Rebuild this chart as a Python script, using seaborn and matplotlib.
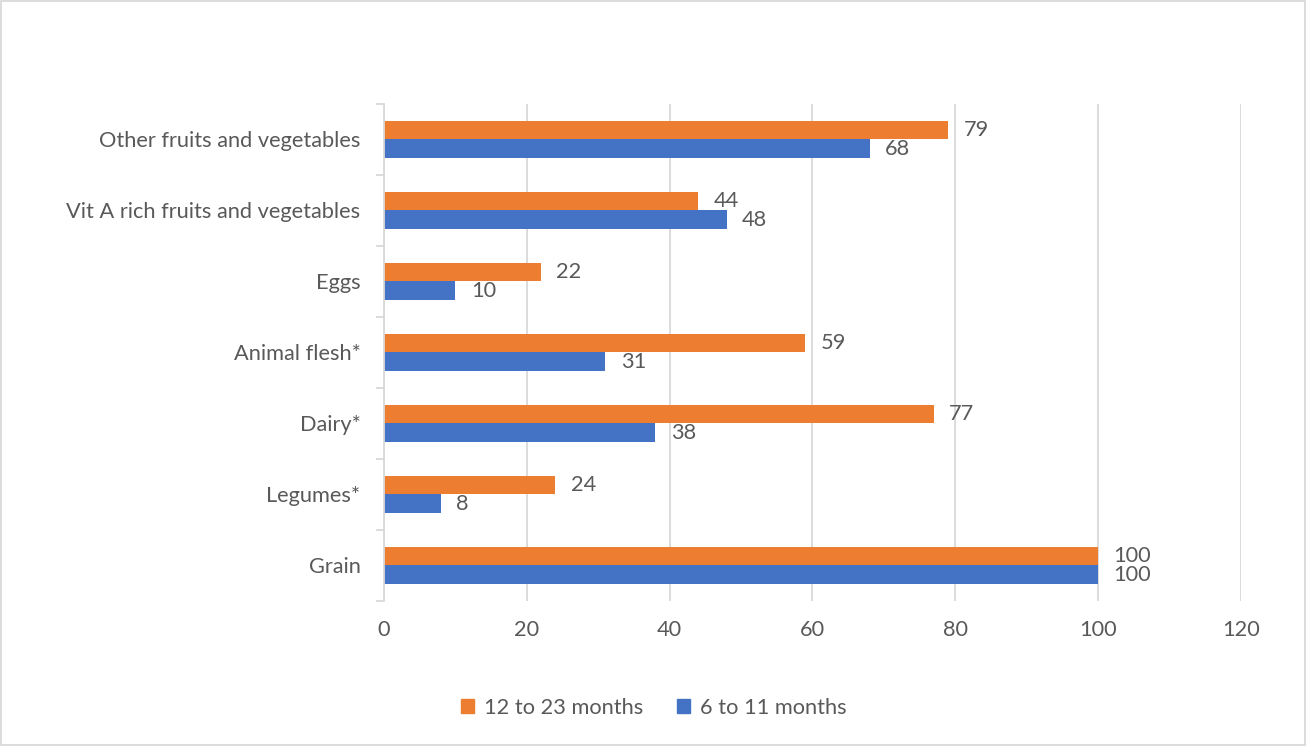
import pandas as pd
import matplotlib.pyplot as plt
import seaborn as sns
from matplotlib.patches import Rectangle, Patch
from matplotlib.ticker import FixedLocator

# data
categories = ['Other fruits and vegetables', 'Vit A rich fruits and vegetables', 'Eggs',
              'Animal flesh*', 'Dairy*', 'Legumes*', 'Grain']
older = [79, 44, 22, 59, 77, 24, 100]     # 12 to 23 months
younger = [68, 48, 10, 31, 38, 8, 100]    # 6 to 11 months
series = ['12 to 23 months', '6 to 11 months']
x_ticks = [0, 20, 40, 60, 80, 100, 120]

df = pd.DataFrame({
    'food': categories * 2,
    'pct': older + younger,
    'age': [series[0]] * len(categories) + [series[1]] * len(categories),
})

sns.set_theme(style='white')
plt.rcParams['font.family'] = ['Lato', 'DejaVu Sans']
text_col = '#595959'
grid_col = '#d9d9d9'
fs = 15.7
palette = {series[0]: '#ED7D31', series[1]: '#4472C4'}

fig = plt.figure(figsize=(13.07, 7.46), dpi=100)
ax = fig.add_axes([0.2938, 0.1944, 0.9495 - 0.2938, 0.8606 - 0.1944])

sns.barplot(data=df, y='food', x='pct', hue='age', order=categories, hue_order=series,
            palette=palette, orient='h', width=0.52, saturation=1, linewidth=0,
            ax=ax, legend=False)

for cont in ax.containers:
    ax.bar_label(cont, fmt='%g', padding=11, fontsize=fs, color=text_col)

ax.set_xlim(0, 120)
ax.set_xticks(x_ticks)
ax.set_ylim(6.5, -0.5)
ax.set_xlabel('')
ax.set_ylabel('')
ax.xaxis.grid(True, color=grid_col, lw=1.3)
ax.set_axisbelow(True)

for s in ['top', 'right', 'bottom']:
    ax.spines[s].set_visible(False)
ax.spines['left'].set_color(grid_col)
ax.spines['left'].set_linewidth(1.3)

ax.tick_params(axis='x', length=0, pad=14, labelsize=fs, labelcolor=text_col)
ax.tick_params(axis='y', which='major', length=0, pad=17, labelsize=fs, labelcolor=text_col)
ax.yaxis.set_minor_locator(FixedLocator([i - 0.5 for i in range(len(categories) + 1)]))
ax.tick_params(axis='y', which='minor', length=6, width=1.3, color=grid_col, left=True)

handles = [Patch(color=palette[s], label=s) for s in series]
fig.legend(handles=handles, loc='center', bbox_to_anchor=(0.5, 0.051), ncol=2, frameon=False,
           fontsize=fs, labelcolor=text_col, handlelength=0.6, handleheight=0.6,
           handletextpad=0.45, columnspacing=1.55)

fig.patches.append(Rectangle((0.0005, 0.001), 0.998, 0.997, transform=fig.transFigure,
                             fill=False, edgecolor=grid_col, lw=1.3))

fig.savefig('out.png', dpi=100)
